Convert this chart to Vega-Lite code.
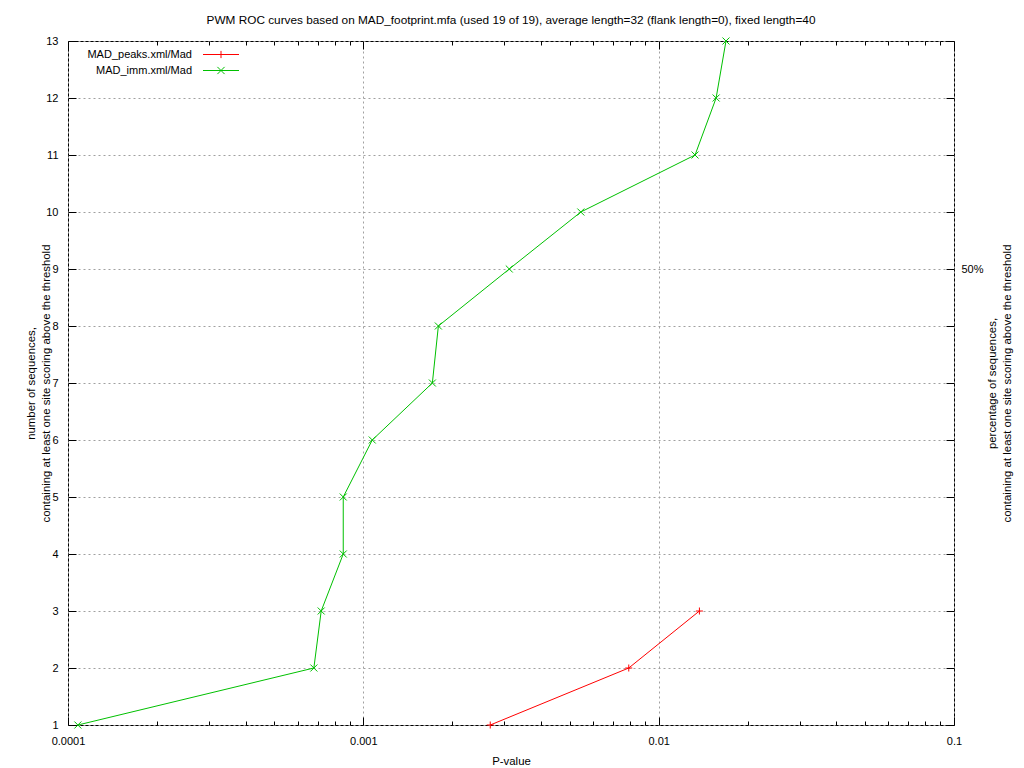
{
  "$schema": "https://vega.github.io/schema/vega-lite/v6.json",
  "width": 886,
  "height": 684,
  "autosize": {"type": "none"},
  "padding": {"left": 68, "top": 41, "right": 70, "bottom": 43},
  "background": "white",
  "title": {
    "text": "PWM ROC curves based on MAD_footprint.mfa (used 19 of 19), average length=32 (flank length=0), fixed length=40",
    "fontSize": 11.8,
    "fontWeight": "normal",
    "font": "Liberation Sans",
    "color": "black",
    "anchor": "middle",
    "offset": 8
  },
  "data": {
    "values": [
      {"series": "MAD_peaks.xml/Mad", "p": 0.00269, "n": 1},
      {"series": "MAD_peaks.xml/Mad", "p": 0.00792, "n": 2},
      {"series": "MAD_peaks.xml/Mad", "p": 0.01374, "n": 3},
      {"series": "MAD_imm.xml/Mad", "p": 0.000108, "n": 1},
      {"series": "MAD_imm.xml/Mad", "p": 0.00068, "n": 2},
      {"series": "MAD_imm.xml/Mad", "p": 0.00072, "n": 3},
      {"series": "MAD_imm.xml/Mad", "p": 0.000855, "n": 4},
      {"series": "MAD_imm.xml/Mad", "p": 0.000855, "n": 5},
      {"series": "MAD_imm.xml/Mad", "p": 0.001072, "n": 6},
      {"series": "MAD_imm.xml/Mad", "p": 0.001713, "n": 7},
      {"series": "MAD_imm.xml/Mad", "p": 0.001795, "n": 8},
      {"series": "MAD_imm.xml/Mad", "p": 0.00312, "n": 9},
      {"series": "MAD_imm.xml/Mad", "p": 0.00545, "n": 10},
      {"series": "MAD_imm.xml/Mad", "p": 0.01328, "n": 11},
      {"series": "MAD_imm.xml/Mad", "p": 0.01565, "n": 12},
      {"series": "MAD_imm.xml/Mad", "p": 0.0169, "n": 13}
    ]
  },
  "layer": [
    {
      "mark": {"type": "line", "strokeWidth": 1},
      "encoding": {
        "x": {
          "field": "p",
          "type": "quantitative",
          "scale": {"type": "log", "domain": [0.0001, 0.1], "nice": false},
          "axis": {
            "orient": "bottom",
            "values": [0.0001, 0.0002, 0.0003, 0.0004, 0.0005, 0.0006, 0.0007, 0.0008, 0.0009, 0.001, 0.002, 0.003, 0.004, 0.005, 0.006, 0.007, 0.008, 0.009, 0.01, 0.02, 0.03, 0.04, 0.05, 0.06, 0.07, 0.08, 0.09, 0.1],
            "labelExpr": "datum.value==0.0001?'0.0001':datum.value==0.001?'0.001':datum.value==0.01?'0.01':datum.value==0.1?'0.1':''",
            "labelFlush": false,
            "labelOverlap": false,
            "labelPadding": 18,
            "tickSize": {"condition": {"test": "datum.value==0.0001||datum.value==0.001||datum.value==0.01||datum.value==0.1", "value": -8}, "value": -4},
            "grid": true,
            "gridColor": "#a0a0a0",
            "gridDash": [2, 3],
            "gridOpacity": {"condition": {"test": "datum.value==0.0001||datum.value==0.001||datum.value==0.01||datum.value==0.1", "value": 1}, "value": 0},
            "domain": false,
            "title": "P-value",
            "titlePadding": 5
          }
        },
        "y": {
          "field": "n",
          "type": "quantitative",
          "scale": {"domain": [1, 13], "nice": false, "zero": false},
          "axis": {
            "orient": "left",
            "values": [1, 2, 3, 4, 5, 6, 7, 8, 9, 10, 11, 12, 13],
            "labelFlush": false,
            "labelOverlap": false,
            "labelPadding": 18,
            "tickSize": -8,
            "grid": true,
            "gridColor": "#a0a0a0",
            "gridDash": [2, 3],
            "domain": false,
            "title": ["number of sequences,", "containing at least one site scoring above the threshold"],
            "titleLineHeight": 15,
            "titlePadding": -6
          }
        },
        "order": {"field": "n", "type": "quantitative"},
        "color": {
          "field": "series",
          "type": "nominal",
          "scale": {"domain": ["MAD_peaks.xml/Mad", "MAD_imm.xml/Mad"], "range": ["#ff0000", "#00c000"]},
          "legend": {
            "title": null,
            "orient": "none",
            "legendX": 0,
            "legendY": 8,
            "padding": 0,
            "rowPadding": 3,
            "labelFontSize": 11,
            "labelFont": "Liberation Sans",
            "labelColor": "black",
            "symbolSize": 64,
            "encode": {
              "symbols": {
                "update": {
                  "shape": {"signal": "datum.value=='MAD_peaks.xml/Mad' ? 'M-4.5,0L4.5,0M0,-0.9L0,0.9' : 'M-4.5,0L4.5,0M-0.9,-0.9L0.9,0.9M-0.9,0.9L0.9,-0.9'"},
                  "stroke": {"signal": "scale('color', datum.value)"},
                  "fill": {"value": "transparent"},
                  "strokeWidth": {"value": 1},
                  "size": {"value": 64},
                  "x": {"value": 153}
                }
              },
              "labels": {
                "update": {
                  "x": {"value": 124},
                  "align": {"value": "right"}
                }
              }
            }
          }
        }
      }
    },
    {
      "transform": [{"filter": "datum.series=='MAD_peaks.xml/Mad'"}],
      "mark": {"type": "point", "filled": false, "strokeWidth": 1, "size": 49, "opacity": 1, "shape": "M-1,0L1,0M0,-1L0,1"},
      "encoding": {
        "x": {
          "field": "p",
          "type": "quantitative",
          "scale": {"type": "log", "domain": [0.0001, 0.1], "nice": false},
          "axis": {
            "orient": "top",
            "values": [0.0001, 0.0002, 0.0003, 0.0004, 0.0005, 0.0006, 0.0007, 0.0008, 0.0009, 0.001, 0.002, 0.003, 0.004, 0.005, 0.006, 0.007, 0.008, 0.009, 0.01, 0.02, 0.03, 0.04, 0.05, 0.06, 0.07, 0.08, 0.09, 0.1],
            "labels": false,
            "tickSize": {"condition": {"test": "datum.value==0.0001||datum.value==0.001||datum.value==0.01||datum.value==0.1", "value": -8}, "value": -4},
            "grid": false,
            "domain": false,
            "title": null
          }
        },
        "y": {
          "field": "n",
          "type": "quantitative",
          "scale": {"domain": [1, 13], "nice": false, "zero": false},
          "axis": {
            "orient": "right",
            "values": [1, 2, 3, 4, 5, 6, 7, 8, 9, 10, 11, 12, 13],
            "labelExpr": "datum.value==9?'50%':''",
            "labelFlush": false,
            "labelOverlap": false,
            "labelPadding": 15,
            "tickSize": -8,
            "grid": false,
            "domain": false,
            "title": ["percentage of sequences,", "containing at least one site scoring above the threshold"],
            "titleAngle": 270,
            "titleLineHeight": 15,
            "titlePadding": -1
          }
        },
        "color": {
          "field": "series",
          "type": "nominal",
          "scale": {"domain": ["MAD_peaks.xml/Mad", "MAD_imm.xml/Mad"], "range": ["#ff0000", "#00c000"]},
          "legend": null
        }
      }
    },
    {
      "transform": [{"filter": "datum.series=='MAD_imm.xml/Mad'"}],
      "mark": {"type": "point", "filled": false, "strokeWidth": 1, "size": 49, "opacity": 1, "shape": "M-1,-1L1,1M-1,1L1,-1"},
      "encoding": {
        "x": {
          "field": "p",
          "type": "quantitative",
          "scale": {"type": "log", "domain": [0.0001, 0.1], "nice": false},
          "axis": null
        },
        "y": {
          "field": "n",
          "type": "quantitative",
          "scale": {"domain": [1, 13], "nice": false, "zero": false},
          "axis": null
        },
        "color": {
          "field": "series",
          "type": "nominal",
          "scale": {"domain": ["MAD_peaks.xml/Mad", "MAD_imm.xml/Mad"], "range": ["#ff0000", "#00c000"]},
          "legend": null
        }
      }
    }
  ],
  "resolve": {"axis": {"x": "independent", "y": "independent"}},
  "config": {
    "font": "Liberation Sans",
    "view": {"stroke": "black", "strokeWidth": 1},
    "axis": {
      "labelFont": "Liberation Sans",
      "labelFontSize": 11,
      "labelColor": "black",
      "titleFont": "Liberation Sans",
      "titleFontSize": 11.4,
      "titleFontWeight": "normal",
      "titleColor": "black",
      "tickColor": "black",
      "tickWidth": 1
    },
    "legend": {"labelFont": "Liberation Sans"}
  }
}
